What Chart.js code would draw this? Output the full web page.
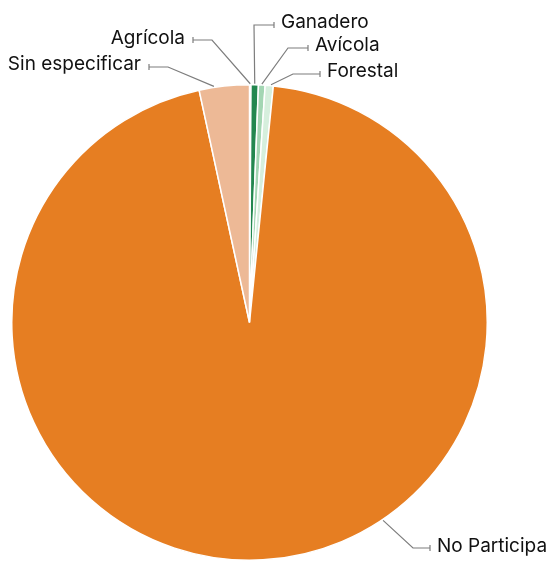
<!DOCTYPE html>
<html>
<head>
<meta charset="utf-8">
<script src="https://cdn.jsdelivr.net/npm/chart.js@4"></script>
<style>
  html, body { margin: 0; padding: 0; background: #fff; }
  canvas { display: block; }
</style>
</head>
<body>
<canvas id="c" width="548" height="561"></canvas>
<script>
// Participación por sector (%), slices run clockwise from 12 o'clock
const categories = ['Agrícola', 'Ganadero', 'Avícola', 'Forestal', 'No Participa', 'Sin especificar'];
const shares = [0.1, 0.5, 0.45, 0.55, 95.0, 3.4];
const sliceColors = ['#1f7a45', '#23874f', '#a3d6b3', '#d6efdd', '#e67e22', '#edb996'];

// Callout placement: where the leader leaves the slice (fraction along the arc),
// the elbow point, the end of the horizontal run, and the text baseline.
const callouts = [
  { f: 0.5,  elbow: [212, 40], end: 193, side: 'left',  base: 44 },
  { f: 0.5,  elbow: [254, 25], end: 274, side: 'right', base: 28 },
  { f: 0.5,  elbow: [288, 48], end: 308, side: 'right', base: 51 },
  { f: 0.7,  elbow: [293, 74], end: 320, side: 'right', base: 77 },
  { f: 0.41, elbow: [413, 548], end: 430, side: 'right', base: 552 },
  { f: 0.3,  elbow: [168, 67], end: 149, side: 'left',  base: 70 }
];

const calloutPlugin = {
  id: 'callouts',
  afterDatasetsDraw(chart) {
    const ctx = chart.ctx;
    const arcs = chart.getDatasetMeta(0).data;
    ctx.save();
    ctx.strokeStyle = '#7d7d7d';
    ctx.lineWidth = 1.2;
    ctx.font = '19px Inter, "Noto Sans", sans-serif';
    ctx.fillStyle = '#111';
    ctx.textBaseline = 'alphabetic';
    arcs.forEach((arc, i) => {
      const c = callouts[i];
      const p = arc.getProps(['x', 'y', 'startAngle', 'endAngle', 'outerRadius'], true);
      const a = p.startAngle + c.f * (p.endAngle - p.startAngle);
      const r = p.outerRadius + 1;
      const ax = p.x + Math.cos(a) * r;
      const ay = p.y + Math.sin(a) * r;
      const [ex, ey] = c.elbow;
      ctx.beginPath();
      ctx.moveTo(ax, ay);
      ctx.lineTo(ex, ey);
      ctx.lineTo(c.end, ey);
      ctx.moveTo(c.end, ey - 3);
      ctx.lineTo(c.end, ey + 3);
      ctx.stroke();
      if (c.side === 'right') {
        ctx.textAlign = 'left';
        ctx.fillText(categories[i], c.end + 7, c.base);
      } else {
        ctx.textAlign = 'right';
        ctx.fillText(categories[i], c.end - 8, c.base);
      }
    });
    ctx.restore();
  }
};

new Chart(document.getElementById('c'), {
  type: 'pie',
  data: {
    labels: categories,
    datasets: [{
      data: shares,
      backgroundColor: sliceColors,
      borderColor: '#ffffff',
      borderWidth: 1.5
    }]
  },
  options: {
    responsive: false,
    animation: false,
    devicePixelRatio: 1,
    layout: { padding: { left: 11, right: 60, top: 84, bottom: 0 } },
    plugins: {
      legend: { display: false },
      tooltip: { enabled: false }
    }
  },
  plugins: [calloutPlugin]
});
</script>
</body>
</html>
